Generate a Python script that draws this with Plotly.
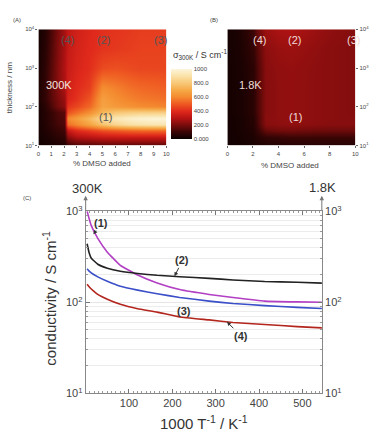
import math
import plotly.graph_objects as go

W, H = 378, 438
FONT = "Liberation Sans, Arial, sans-serif"

# ---------------- heatmap data (A: 300 K, B: 1.8 K) ----------------
dmso_pct = [0, 0.5, 1, 1.5, 2, 2.3, 3, 4, 5, 6, 7, 8, 9, 10]
thick_log10 = [1.0, 1.2, 1.4, 1.55, 1.7, 1.85, 2.0, 2.2, 2.5, 3.0, 3.5, 4.0]

sigma_300K = [
    [20, 25, 30, 40, 50, 100, 130, 140, 150, 150, 150, 150, 150, 150],
    [25, 35, 50, 70, 80, 220, 280, 300, 320, 330, 330, 330, 330, 330],
    [30, 45, 70, 95, 110, 330, 400, 440, 480, 500, 520, 530, 530, 530],
    [30, 50, 85, 115, 130, 540, 600, 680, 780, 850, 890, 910, 920, 920],
    [30, 55, 90, 125, 140, 600, 660, 750, 870, 930, 960, 980, 990, 990],
    [30, 55, 95, 130, 150, 480, 540, 620, 740, 800, 820, 830, 830, 830],
    [30, 60, 130, 190, 230, 420, 460, 530, 680, 650, 630, 610, 600, 590],
    [40, 80, 150, 200, 250, 380, 420, 490, 670, 620, 590, 570, 560, 550],
    [40, 80, 160, 220, 280, 360, 400, 440, 610, 580, 550, 530, 520, 510],
    [35, 70, 150, 220, 290, 340, 380, 410, 470, 480, 470, 460, 460, 460],
    [30, 60, 140, 210, 280, 330, 370, 400, 420, 430, 440, 450, 450, 450],
    [25, 50, 130, 200, 270, 320, 360, 390, 410, 420, 430, 440, 440, 440],
]

sigma_1p8K = [
    [20, 20, 25, 30, 35, 40, 50, 55, 60, 60, 60, 60, 60, 60],
    [20, 22, 28, 35, 40, 55, 80, 90, 100, 100, 100, 100, 100, 100],
    [22, 25, 30, 40, 50, 80, 170, 190, 190, 185, 180, 180, 180, 180],
    [22, 25, 32, 45, 60, 100, 220, 230, 235, 230, 225, 220, 220, 220],
    [22, 25, 32, 45, 60, 105, 225, 235, 240, 235, 230, 225, 220, 220],
    [25, 28, 35, 50, 70, 115, 220, 235, 240, 235, 230, 225, 220, 215],
    [25, 28, 35, 50, 70, 115, 220, 235, 240, 235, 230, 225, 220, 215],
    [25, 28, 35, 50, 70, 115, 220, 235, 240, 235, 230, 225, 220, 215],
    [25, 28, 35, 50, 70, 115, 220, 235, 240, 235, 230, 225, 220, 215],
    [25, 28, 35, 50, 72, 118, 222, 238, 242, 236, 230, 225, 220, 215],
    [25, 30, 40, 60, 90, 135, 230, 250, 255, 245, 235, 225, 220, 215],
    [25, 30, 45, 70, 110, 165, 255, 280, 285, 270, 250, 235, 225, 220],
]

cbar_vals = [0, 200, 400, 600, 800, 1000]
cbar_text = ["0.000", "200.0", "400.0", "600.0", "800.0", "1000"]

# ---------------- panel C data ----------------
inv_T = [3.33, 8, 13, 28, 50, 80, 120, 165, 217, 285, 340, 413, 488, 555]
cond_1 = [1000, 830, 695, 503, 355, 255, 199, 163, 138, 122, 113, 103, 101, 100]
cond_2 = [440, 350, 305, 262, 237, 219, 207, 198, 191, 183, 176, 169, 166, 162]
cond_3 = [234, 220, 210, 190, 170, 150, 136, 124, 113, 103, 97, 92, 88, 85]
cond_4 = [158, 148, 140, 122, 108, 95, 85, 78, 69, 64, 60, 57, 54, 52]

c_major = [10, 100, 1000]
c_minor = [20, 30, 40, 50, 60, 70, 80, 90, 200, 300, 400, 500, 600, 700, 800, 900]

colorscale = [
    [0.0, "#0a0000"], [0.1, "#3a0505"], [0.2, "#7a0c0c"], [0.3, "#b81414"],
    [0.4, "#e02a1c"], [0.5, "#ef5a22"], [0.6, "#f48a30"], [0.7, "#f6aa48"],
    [0.8, "#f8c878"], [0.9, "#fae2a8"], [1.0, "#fcf6dc"],
]

def px(x):
    return x / W

def py(y):
    return 1 - y / H

fig = go.Figure()

fig.add_trace(go.Heatmap(
    x=dmso_pct, y=thick_log10, z=sigma_300K, zmin=0, zmax=1000,
    colorscale=colorscale, zsmooth="best", xaxis="x", yaxis="y",
    colorbar=dict(x=px(172), xanchor="left", y=py(99), yanchor="middle",
                  len=72 / H, lenmode="fraction", thickness=21, thicknessmode="pixels",
                  tickvals=cbar_vals, ticktext=cbar_text, ticks="",
                  tickfont=dict(size=6, color="#444", family=FONT),
                  outlinewidth=0, xpad=0, ypad=0),
    hoverinfo="skip",
))
fig.add_trace(go.Heatmap(
    x=dmso_pct, y=thick_log10, z=sigma_1p8K, zmin=0, zmax=1000,
    colorscale=colorscale, zsmooth="best", xaxis="x2", yaxis="y2",
    showscale=False, hoverinfo="skip",
))

curve_cols = ["#b23fc4", "#222222", "#3b4fc8", "#b3261e"]
for vals, c in zip([cond_1, cond_2, cond_3, cond_4], curve_cols):
    fig.add_trace(go.Scatter(x=inv_T, y=vals, mode="lines", xaxis="x3", yaxis="y3",
                             line=dict(color=c, width=1.6, shape="spline", smoothing=0.3),
                             showlegend=False, hoverinfo="skip"))
# invisible traces so the right and top axes of panel C are drawn
fig.add_trace(go.Scatter(x=[inv_T[0]], y=[cond_1[0]], mode="markers", xaxis="x3", yaxis="y4",
                         marker=dict(opacity=0), showlegend=False, hoverinfo="skip"))
fig.add_trace(go.Scatter(x=[inv_T[0]], y=[cond_1[0]], mode="markers", xaxis="x4", yaxis="y3",
                         marker=dict(opacity=0), showlegend=False, hoverinfo="skip"))

small_tick = dict(size=6, color="#444", family=FONT)
dec_text = ["10<sup>1</sup>", "10<sup>2</sup>", "10<sup>3</sup>", "10<sup>4</sup>"]
c_ticktext = ["10<sup>1</sup>", "10<sup>2</sup>", "10<sup>3</sup>"]
c_font = dict(size=11, color="#444", family=FONT)

layout = dict(
    width=W, height=H, margin=dict(l=0, r=0, t=0, b=0),
    paper_bgcolor="white", plot_bgcolor="white", showlegend=False,
    font=dict(family=FONT, color="#333"),
    xaxis=dict(domain=[px(37), px(167)], range=[0, 10], tickvals=list(range(11)),
               tickfont=small_tick, ticks="outside", ticklen=2, tickcolor="#666",
               showgrid=False, zeroline=False, anchor="y", showline=False),
    yaxis=dict(domain=[py(142), py(22)], range=[1, 4], tickvals=[1, 2, 3, 4], ticktext=dec_text,
               tickfont=small_tick, ticks="outside", ticklen=2, tickcolor="#666",
               showgrid=False, zeroline=False, anchor="x"),
    xaxis2=dict(domain=[px(229), px(359)], range=[0, 10], tickvals=[0, 2, 4, 6, 8, 10],
                tickfont=small_tick, ticks="outside", ticklen=2, tickcolor="#666",
                showgrid=False, zeroline=False, anchor="y2"),
    yaxis2=dict(domain=[py(142), py(22)], range=[1, 4], tickvals=[1, 2, 3, 4], ticktext=dec_text,
                tickfont=small_tick, ticks="outside", ticklen=2, tickcolor="#666", side="right",
                showgrid=False, zeroline=False, anchor="x2"),
    xaxis3=dict(domain=[px(85), px(325)], range=[0, 545], tickvals=[100, 200, 300, 400, 500],
                tickfont=c_font, ticks="inside", ticklen=4,
                tickcolor="#777", showline=True, linecolor="#888", linewidth=1,
                minor=dict(dtick=10, tick0=0, ticks="inside", ticklen=2, tickcolor="#999"),
                showgrid=False, zeroline=False, anchor="y3"),
    xaxis4=dict(overlaying="x3", side="top", range=[0, 545], tickvals=[100, 200, 300, 400, 500],
                showticklabels=False, ticks="inside", ticklen=4, tickcolor="#777",
                showline=True, linecolor="#888", linewidth=1,
                minor=dict(dtick=10, tick0=0, ticks="inside", ticklen=2, tickcolor="#999"),
                showgrid=False, zeroline=False, anchor="y3"),
    yaxis3=dict(domain=[py(398), py(210)], type="log", range=[1, 3], tickvals=c_major,
                ticktext=c_ticktext, tickfont=c_font, ticks="inside", ticklen=4,
                tickcolor="#777", showline=True, linecolor="#888", linewidth=1,
                showgrid=True, gridcolor="#e6e6e6", gridwidth=1,
                minor=dict(tickvals=c_minor, ticks="inside", ticklen=2, tickcolor="#999",
                           showgrid=True, gridcolor="#ececec", gridwidth=1),
                zeroline=False, anchor="x3"),
    yaxis4=dict(overlaying="y3", side="right", type="log", range=[1, 3], tickvals=c_major,
                ticktext=c_ticktext, tickfont=c_font, ticks="inside", ticklen=4,
                tickcolor="#777", showline=True, linecolor="#888", linewidth=1,
                minor=dict(tickvals=c_minor, ticks="inside", ticklen=2, tickcolor="#999",
                           showgrid=False),
                showgrid=False, zeroline=False, anchor="x3"),
)
fig.update_layout(**layout)

ann = []
def T(x, y, text, size, color="#333", **kw):
    d = dict(xref="paper", yref="paper", x=px(x), y=py(y), text=text, showarrow=False,
             font=dict(size=size, color=color, family=FONT), xanchor="center", yanchor="middle")
    d.update(kw)
    ann.append(d)

# panel labels
T(15, 12, "(A)", 6, "#444")
T(215, 12, "(B)", 6, "#444")
T(25, 196, "(C)", 6, "#444")
# axis titles A/B
T(8, 82, "thickness / nm", 8, "#444", textangle=-90)
T(102, 161, "% DMSO added", 8, "#444")
T(293, 163, "% DMSO added", 8, "#444")
T(172, 48, "σ<sub>300K</sub> / S cm<sup>-1</sup>", 9, "#333", xanchor="left")
# heatmap labels
for (x, y, t, c, s) in [(67, 33, "(4)", "#555", 11), (103, 33, "(2)", "#555", 11), (161, 33, "(3)", "#555", 11),
                        (58, 80, "300K", "#f4e8e0", 11), (105, 113, "(1)", "#555", 11),
                        (262, 33, "(4)", "#f0dcd8", 11), (297, 33, "(2)", "#f0dcd8", 11), (357, 33, "(3)", "#f0dcd8", 11),
                        (253, 80, "1.8K", "#f0dcd8", 11), (298, 113, "(1)", "#f0dcd8", 11)]:
    T(x, y, t, s, c)
# panel C titles
T(48, 300, "conductivity / S cm<sup>-1</sup>", 15, "#333", textangle=-90)
T(205, 428, "1000 T<sup>-1</sup> / K<sup>-1</sup>", 15, "#333")
T(87, 186, "300K", 13, "#333")
T(326, 185, "1.8K", 13, "#333")
# axis arrows
for xx in (85, 325):
    ann.append(dict(xref="paper", yref="paper", x=px(xx), y=py(194), ax=0, ay=16, axref="pixel",
                    ayref="pixel", text="", showarrow=True, arrowhead=2, arrowsize=0.9,
                    arrowwidth=1, arrowcolor="#777", standoff=0))
# curve labels with arrows
for (tx, tv, ax, ay, t) in [(18, 560, 8, -11, "(1)"), (205, 193, 8, -16, "(2)"),
                            (198, 115, 13, 14, "(3)"), (326, 61, 14, 14, "(4)")]:
    ann.append(dict(xref="x3", yref="y3", x=tx, y=math.log10(tv), ax=ax, ay=ay,
                    text="<b>" + t + "</b>", showarrow=True, arrowhead=2, arrowsize=0.8,
                    arrowwidth=1, arrowcolor="#333", standoff=0,
                    font=dict(size=11, color="#333", family=FONT)))
fig.update_layout(annotations=ann)

fig.write_html("out.html")
